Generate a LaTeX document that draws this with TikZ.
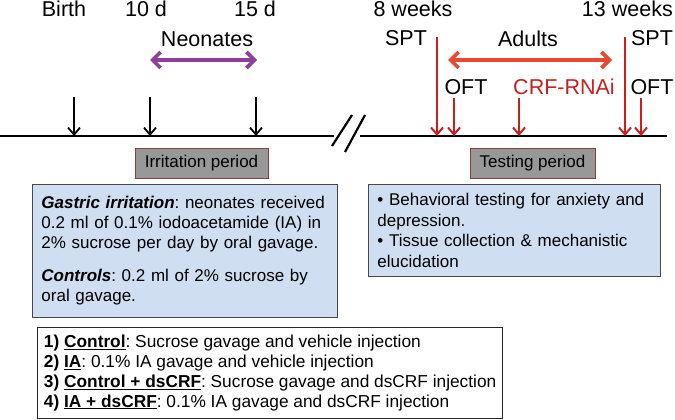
\documentclass[tikz,border=0pt]{standalone}
\usepackage{fontspec}
\setmainfont{Liberation Sans}
\usepackage{xcolor}
\usetikzlibrary{arrows.meta, positioning, calc}
\definecolor{myred}{RGB}{200, 32, 30}
\definecolor{myorange}{RGB}{232, 72, 48}
\definecolor{mypurple}{RGB}{142, 62, 155}
\definecolor{myblue}{RGB}{207, 222, 240}
\definecolor{mygray}{RGB}{152, 152, 152}
\definecolor{mybrown}{RGB}{135, 62, 62}
\definecolor{myframe}{RGB}{70, 72, 80}

\begin{document}
\frenchspacing
\begin{tikzpicture}[x=1pt, y=-1pt,
    lab/.style={anchor=base, inner sep=0pt, font=\fontsize{21.5}{24}\selectfont},
    blackarrow/.style={-{Straight Barb[length=7pt, width=12pt]}, line width=1.8pt},
    redarrow/.style={-{Straight Barb[length=7pt, width=12pt]}, line width=2pt, myred},
    spanarrow/.style={{Straight Barb[length=8pt, width=16pt]}-{Straight Barb[length=8pt, width=16pt]}, line width=3.6pt},
    periodbox/.style={rectangle, draw=mybrown, fill=mygray, line width=0.8pt, minimum height=30pt, font=\fontsize{17}{20}\selectfont},
    infobox/.style={rectangle, draw=myframe, fill=myblue, line width=0.9pt, anchor=north west, align=left, inner xsep=9pt, font=\fontsize{17}{20}\selectfont}]
    \useasboundingbox (0,0) rectangle (675,420);

    % time line
    \coordinate (axis) at (0,136);
    \coordinate (l0) at (0,136);
    \coordinate (l1) at (334,136);
    \coordinate (r0) at (360,136);
    \coordinate (r1) at (667,136);
    \draw[line width=2.8pt] (l0) -- (l1);
    \draw[line width=2.8pt] (r0) -- (r1);
    \coordinate (c1a) at (332,146);
    \coordinate (c1b) at (352,115);
    \coordinate (c2a) at (345,152);
    \coordinate (c2b) at (365,115);
    \draw[line width=2.2pt] (c1a) -- (c1b);
    \draw[line width=2.2pt] (c2a) -- (c2b);

    % neonates
    \node[lab] (birth) at (64,17) {Birth};
    \node[lab] (d10) at (146,17) {10 d};
    \node[lab] (d15) at (255,17) {15 d};
    \node[lab] (neo) at (207,47) {Neonates};
    \coordinate (neoL) at (150,60);
    \coordinate (neoR) at (257,60);
    \draw[spanarrow, mypurple] (neoL) -- (neoR);
    \coordinate (aB) at (74,97);
    \coordinate (a10) at (150,97);
    \coordinate (a15) at (256,97);
    \draw[blackarrow] (aB) -- (aB |- axis);
    \draw[blackarrow] (a10) -- (a10 |- axis);
    \draw[blackarrow] (a15) -- (a15 |- axis);

    % adults
    \node[lab] (wk8) at (413,17) {8 weeks};
    \node[lab] (spt1) at (406,46) {SPT};
    \node[lab] (adults) at (528,47) {Adults};
    \node[lab] (oft1) at (466,95) {OFT};
    \node[lab, myred] (crf) at (564,95) {CRF-RNAi};
    \node[lab, anchor=base east] (wk13) at (673,17) {13 weeks};
    \node[lab] (spt2) at (652,46) {SPT};
    \node[lab] (oft2) at (652,95) {OFT};
    \coordinate (adL) at (448,60);
    \coordinate (adR) at (612,60);
    \draw[spanarrow, myorange] (adL) -- (adR);
    \coordinate (s1) at (437,37);
    \coordinate (o1) at (454,98);
    \coordinate (cr) at (519,98);
    \coordinate (s2) at (625,37);
    \coordinate (o2) at (641,98);
    \draw[redarrow] (s1) -- (s1 |- axis);
    \draw[redarrow] (o1) -- (o1 |- axis);
    \draw[redarrow] (cr) -- (cr |- axis);
    \draw[redarrow] (s2) -- (s2 |- axis);
    \draw[redarrow] (o2) -- (o2 |- axis);

    % periods
    \node[periodbox, minimum width=133pt] (irr) at (201.5,163) {Irritation period};
    \node[periodbox, minimum width=125pt] (test) at (532.5,163) {Testing period};

    % details
    \node[infobox, text width=287pt, minimum height=133pt] (gastric) at (32,184)
        {\mbox{\textbf{\textit{Gastric irritation}}: neonates received}\\
         0.2 ml of 0.1\% iodoacetamide (IA) in\\
         2\% sucrose per day by oral gavage.\\[13pt]
         \textbf{\textit{Controls}}: 0.2 ml of 2\% sucrose by\\
         oral gavage.};
    \node[infobox, text width=274pt, minimum height=92pt, font=\fontsize{17}{20.5}\selectfont] (tests) at (368,184)
        {\textbullet{} Behavioral testing for anxiety and\\
         depression.\\
         \textbullet{} Tissue collection \& mechanistic\\
         elucidation};

    % groups
    \node[rectangle, draw=black!85, fill=white, line width=0.9pt, anchor=north west, align=left,
          inner xsep=6.5pt, minimum height=91pt, font=\fontsize{17.3}{19.8}\selectfont] (groups) at (37,327)
        {\textbf{1) \underline{Control}}: Sucrose gavage and vehicle injection\\
         \textbf{2) \underline{IA}}: 0.1\% IA gavage and vehicle injection\\
         \textbf{3) \underline{Control + dsCRF}}: Sucrose gavage and dsCRF injection\\
         \textbf{4) \underline{IA + dsCRF}}: 0.1\% IA gavage and dsCRF injection};
\end{tikzpicture}
\end{document}
